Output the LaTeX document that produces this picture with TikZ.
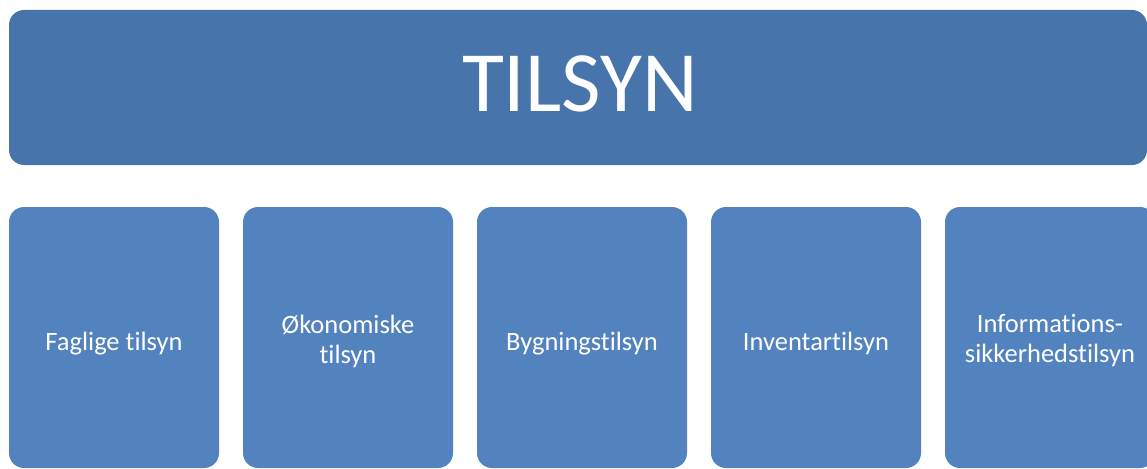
\documentclass[tikz,border=0pt]{standalone}
\usepackage{fontspec}
\setmainfont{Carlito}[Ligatures=NoCommon]
\definecolor{topblue}{RGB}{71,117,171}
\definecolor{boxblue}{RGB}{82,131,190}
\begin{document}
\begin{tikzpicture}[x=1pt,y=1pt,
  topbox/.style={fill=topblue, draw=none, rounded corners=15pt, inner sep=0pt,
    minimum width=1138pt, minimum height=155pt},
  toptext/.style={text=white, inner sep=0pt, anchor=base,
    font=\fontsize{86}{100}\selectfont},
  subbox/.style={fill=boxblue, draw=none, rounded corners=15pt, inner sep=0pt,
    minimum width=210pt, minimum height=261pt},
  lbl/.style={text=white, align=center, inner sep=0pt,
    font=\fontsize{26.5}{30}\selectfont}]
\useasboundingbox (0,0) rectangle (1147,-468);
\clip (0,0) rectangle (1147,-468);
\node[topbox] (top) at (578,-87.5) {};
\node[toptext] (toptxt) at (580,-112) {TILSYN};
\node[subbox] (b1) at (114,-337.5) {};
\node[subbox] (b2) at (348,-337.5) {};
\node[subbox] (b3) at (582,-337.5) {};
\node[subbox] (b4) at (816,-337.5) {};
\node[subbox] (b5) at (1050,-337.5) {};
\node[lbl, anchor=base] (t1) at (114,-350) {Faglige tilsyn};
\node[lbl, anchor=base] (t3) at (582,-350) {Bygningstilsyn};
\node[lbl, anchor=base] (t4) at (816,-350) {Inventartilsyn};
\node[lbl] (t2) at (348,-341) {Økonomiske\\tilsyn};
\node[lbl] (t5) at (1050,-341) {Informations-\\sikkerhedstilsyn};
\end{tikzpicture}
\end{document}
